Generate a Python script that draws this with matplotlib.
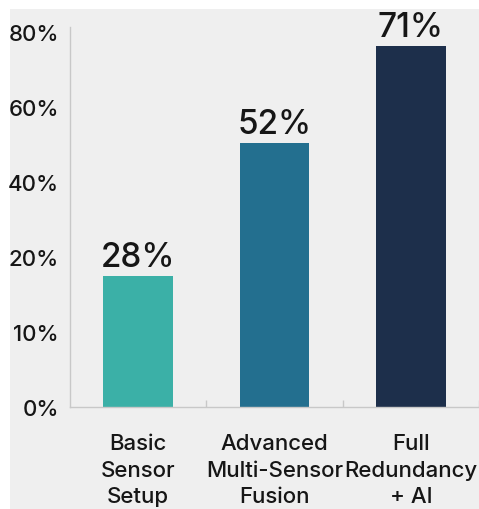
import numpy as np
import matplotlib
matplotlib.use('Agg')
import matplotlib.pyplot as plt
from matplotlib.patches import Rectangle
from matplotlib.ticker import FixedLocator

plt.rcParams['font.family'] = ['Inter', 'DejaVu Sans']
plt.rcParams['font.weight'] = 500

# ---------- data ----------
categories = ['Basic\nSensor\nSetup', 'Advanced\nMulti-Sensor\nFusion', 'Full\nRedundancy\n+ AI']
bar_heights = [17.5, 50.4, 76.3]          # height as drawn against the axis
bar_labels = ['28%', '52%', '71%']        # printed value labels
y_ticks = [0, 10, 20, 40, 60, 80]
y_tick_labels = ['0%', '10%', '20%', '40%', '60%', '80%']
bar_colors = ['#3bb0a7', '#236f8f', '#1d2f4b']

# the axis spaces its ticks evenly, whatever their value
knots = y_ticks + [100]
steps = list(range(len(knots)))


def fwd(v):
    return np.interp(v, knots, steps)


def inv(u):
    return np.interp(u, steps, knots)


fig = plt.figure(figsize=(4.79, 5.10), dpi=100, facecolor='white')
fig.patches.append(Rectangle((10 / 479, 0), 1 - 10 / 479, 500 / 510,
                             transform=fig.transFigure, facecolor='#efefef',
                             edgecolor='none', zorder=-10))

ax = fig.add_axes([70 / 479, 102 / 510, 409 / 479, 380 / 510])
ax.set_facecolor('none')
ax.set_yscale('function', functions=(fwd, inv))

x = np.arange(len(categories))
bars = ax.bar(x, bar_heights, width=0.51, color=bar_colors, zorder=2)
for b, lab in zip(bars, bar_labels):
    ax.annotate(lab, (b.get_x() + b.get_width() / 2, b.get_height()),
                xytext=(0, 2), textcoords='offset points',
                ha='center', va='bottom', fontsize=24, color='#161616',
                fontweight=500)

ax.set_xlim(-0.5, 2.5)
ax.set_ylim(0, 81.3)
ax.set_yticks(y_ticks)
ax.set_yticklabels(y_tick_labels)
ax.set_xticks(x)
ax.set_xticklabels(categories, linespacing=1.4)
ax.xaxis.set_minor_locator(FixedLocator([0.5, 1.5, 2.5]))

ax.tick_params(axis='y', length=0, pad=8, labelsize=16, labelcolor='#161616')
ax.tick_params(axis='x', which='major', length=0, pad=19, labelsize=16,
               labelcolor='#161616')
ax.tick_params(axis='x', which='minor', direction='in', length=5,
               color='#c8c8c8', width=1)

for s in ['top', 'right']:
    ax.spines[s].set_visible(False)
for s in ['left', 'bottom']:
    ax.spines[s].set_color('#c8c8c8')
    ax.spines[s].set_linewidth(1)

fig.savefig('out.png', dpi=100)
